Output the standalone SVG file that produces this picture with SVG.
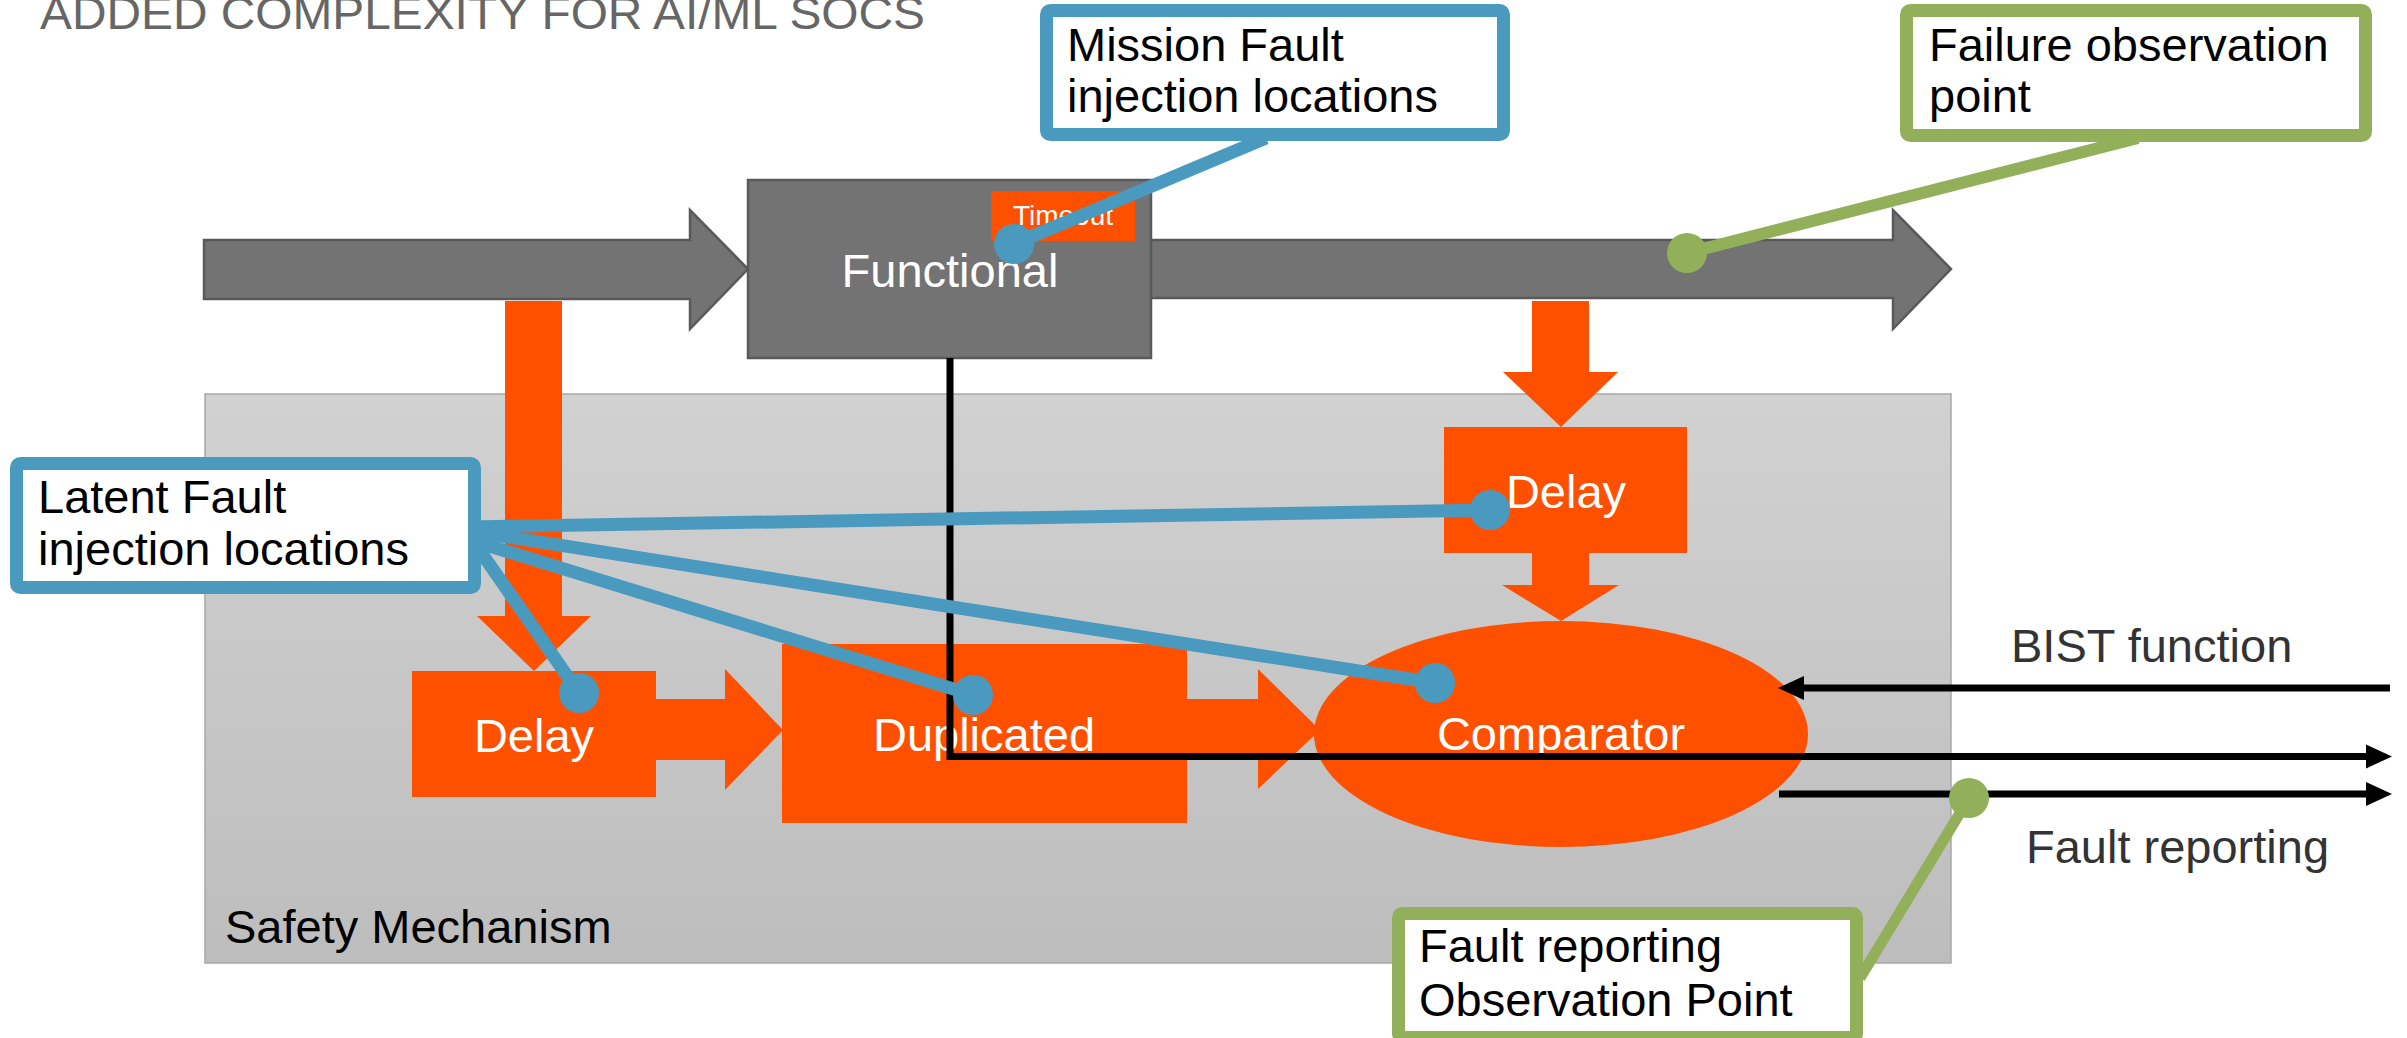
<svg xmlns="http://www.w3.org/2000/svg" width="2407" height="1038" viewBox="0 0 2407 1038">
  <defs>
    <linearGradient id="smFill" x1="0" y1="0" x2="0" y2="1">
      <stop offset="0" stop-color="#d1d1d1"/>
      <stop offset="1" stop-color="#bdbdbd"/>
    </linearGradient>
    <style>
      text { font-family: "Liberation Sans", Arial, sans-serif; }
      .title { font-size: 47px; fill: #666666; }
      .lbl { font-size: 47px; fill: #ffffff; }
      .small { font-size: 28px; fill: #ffffff; }
      .note { font-size: 47px; fill: #000000; }
      .side { font-size: 47px; fill: #333333; }
      .orange { fill: #ff5000; }
      .grayArrow { fill: #737373; stroke: #595959; stroke-width: 2.5; }
      .wire { fill: none; stroke: #000; stroke-width: 7; }
      .head { fill: #000; }
      .blueLine { fill: none; stroke: #4a9abf; stroke-width: 13; }
      .greenLine { fill: none; stroke: #92b05a; stroke-width: 12; }
      .blueDot { fill: #4a9abf; }
      .greenDot { fill: #92b05a; }
      .calloutBlue { fill: #ffffff; stroke: #4a9abf; stroke-width: 13; }
      .calloutGreen { fill: #ffffff; stroke: #92b05a; stroke-width: 13; }
    </style>
  </defs>

  <rect width="2407" height="1038" fill="#ffffff"/>

  <text class="title" x="40" y="29" textLength="885" lengthAdjust="spacingAndGlyphs">ADDED COMPLEXITY FOR AI/ML SOCS</text>

  <!-- Safety mechanism container -->
  <g id="safety-mechanism">
    <rect x="205" y="394" width="1746" height="569" fill="url(#smFill)" stroke="#a8a8a8" stroke-width="1.5"/>
    <text class="note" x="225" y="943" fill="#111">Safety Mechanism</text>
  </g>

  <!-- Data path arrows -->
  <g id="connectors">
    <path class="grayArrow" d="M204,240 H690 V210 L748,269 L690,329 V299 H204 Z"/>
    <path class="grayArrow" d="M1151,240 H1893 V210 L1951,269 L1893,329 V298 H1151"/>
    <path class="orange" d="M505,301 H562 V616 H591 L534,671 L477,616 H505 Z"/>
    <path class="orange" d="M1532,301 H1589 V372 H1618 L1561,427 L1503,372 H1532 Z"/>
    <path class="orange" d="M1532,550 H1589 V585 H1619 L1561,621 L1502,585 H1532 Z"/>
    <path class="orange" d="M654,699 H725 V669 L783,730 L725,790 V760 H654 Z"/>
    <path class="orange" d="M1185,699 H1258 V669 L1320,730 L1258,789 V760 H1185 Z"/>
  </g>

  <g id="functional">
    <rect x="748" y="180" width="403" height="178" fill="#737373" stroke="#595959" stroke-width="2.5"/>
    <text class="lbl" x="950" y="287" text-anchor="middle">Functional</text>
  </g>
  <g id="timeout">
    <rect class="orange" x="991" y="191" width="144" height="50"/>
    <text class="small" x="1063" y="225" text-anchor="middle">Timeout</text>
  </g>

  <g id="delay-left">
    <rect class="orange" x="412" y="671" width="244" height="126"/>
    <text class="lbl" x="534" y="752" text-anchor="middle">Delay</text>
  </g>
  <g id="duplicated">
    <rect class="orange" x="782" y="644" width="405" height="179"/>
    <text class="lbl" x="984" y="751" text-anchor="middle">Duplicated</text>
  </g>
  <g id="delay-right">
    <rect class="orange" x="1444" y="427" width="243" height="126"/>
    <text class="lbl" x="1566" y="508" text-anchor="middle">Delay</text>
  </g>
  <g id="comparator">
    <ellipse class="orange" cx="1561" cy="734" rx="247" ry="113"/>
    <text class="lbl" x="1561" y="750" text-anchor="middle">Comparator</text>
  </g>

  <!-- Signal wires with their arrowheads -->
  <g id="wires">
    <path class="wire" d="M950,358 V756.5 H2368"/>
    <polygon class="head" points="2366,744.5 2392,756.5 2366,768.5"/>
    <path class="wire" d="M2390,688 H1800"/>
    <polygon class="head" points="1804,676 1778,688 1804,700"/>
    <path class="wire" d="M1779,794 H2368"/>
    <polygon class="head" points="2366,782 2392,794 2366,806"/>
  </g>

  <g id="side-labels">
    <text class="side" x="2011" y="662">BIST function</text>
    <text class="side" x="2026" y="863">Fault reporting</text>
  </g>

  <!-- Callout pointers -->
  <g id="pointers">
    <line class="blueLine" x1="1014" y1="244" x2="1266" y2="138"/>
    <line class="blueLine" x1="470" y1="527" x2="1490" y2="510"/>
    <line class="blueLine" x1="470" y1="531" x2="1435" y2="683"/>
    <line class="blueLine" x1="470" y1="540" x2="973" y2="695"/>
    <line class="blueLine" x1="476" y1="545" x2="579" y2="693"/>
    <line class="greenLine" x1="1687" y1="253" x2="2138" y2="138"/>
    <line class="greenLine" x1="1969" y1="798" x2="1860" y2="978" style="stroke-width:11"/>
    <circle class="blueDot" cx="1014" cy="244" r="20"/>
    <circle class="blueDot" cx="1490" cy="510" r="20"/>
    <circle class="blueDot" cx="1435" cy="683" r="20"/>
    <circle class="blueDot" cx="973" cy="695" r="20"/>
    <circle class="blueDot" cx="579" cy="693" r="20"/>
    <circle class="greenDot" cx="1687" cy="253" r="20"/>
    <circle class="greenDot" cx="1969" cy="798" r="20"/>
  </g>

  <g id="callout-mission">
    <rect class="calloutBlue" x="1046.5" y="10.5" width="457" height="124" rx="4"/>
    <text class="note" x="1067" y="61">Mission Fault</text>
    <text class="note" x="1067" y="112">injection locations</text>
  </g>
  <g id="callout-failure">
    <rect class="calloutGreen" x="1906.5" y="10.5" width="459" height="125" rx="4"/>
    <text class="note" x="1929" y="61">Failure observation</text>
    <text class="note" x="1929" y="112">point</text>
  </g>
  <g id="callout-latent">
    <rect class="calloutBlue" x="16.5" y="463.5" width="458" height="124" rx="4"/>
    <text class="note" x="38" y="513">Latent Fault</text>
    <text class="note" x="38" y="565">injection locations</text>
  </g>
  <g id="callout-fault-reporting">
    <rect class="calloutGreen" x="1398.5" y="913.5" width="458" height="124" rx="4"/>
    <text class="note" x="1419" y="962">Fault reporting</text>
    <text class="note" x="1419" y="1016">Observation Point</text>
  </g>
</svg>
